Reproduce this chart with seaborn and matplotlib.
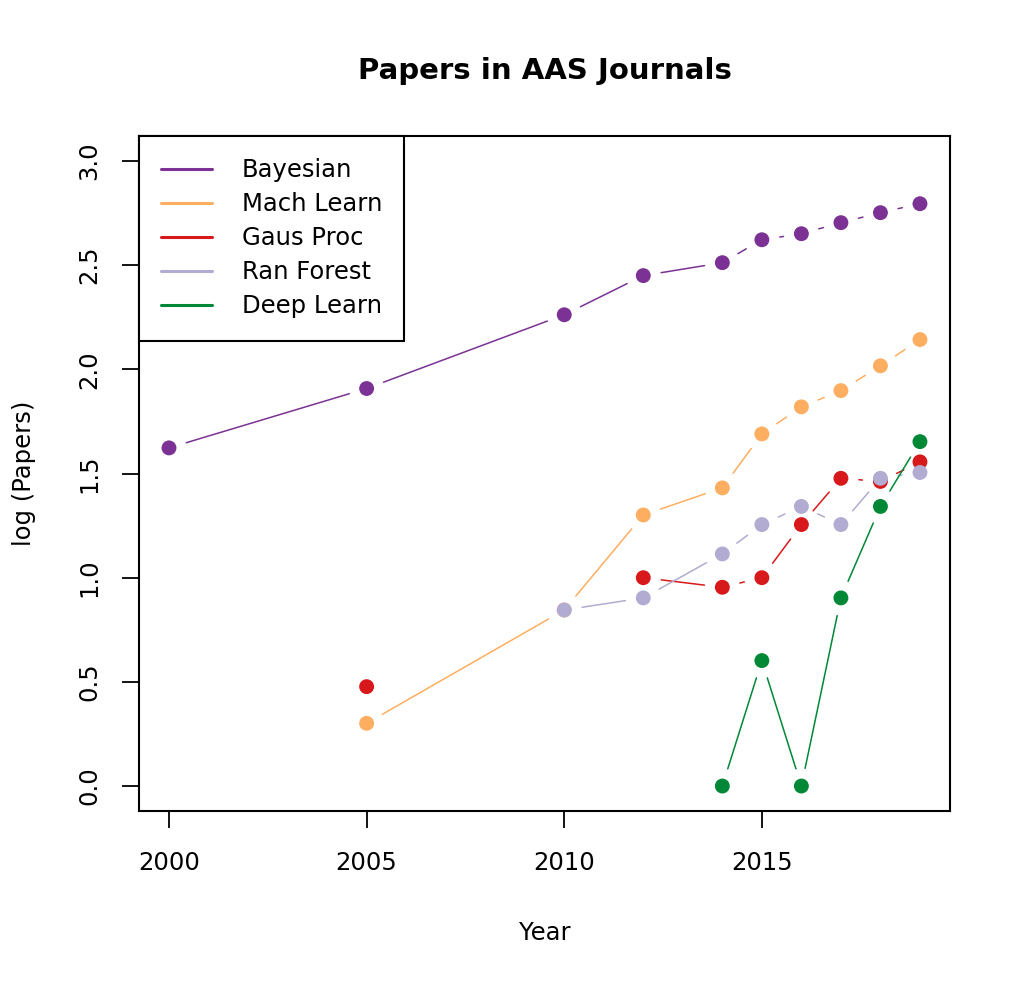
import numpy as np
import pandas as pd
import matplotlib
matplotlib.use('Agg')
import matplotlib.pyplot as plt
import seaborn as sns
from matplotlib.lines import Line2D

sns.set_style('ticks')
plt.rcParams['font.family'] = ['DejaVu Sans']
plt.rcParams['text.color'] = 'black'
plt.rcParams['axes.labelcolor'] = 'black'

# Data (log10 of paper counts)
years = [2000, 2005, 2010, 2012, 2014, 2015, 2016, 2017, 2018, 2019]
bayesian = [1.623, 1.908, 2.262, 2.450, 2.512, 2.622, 2.651, 2.704, 2.752, 2.795]
mach_learn = [np.nan, 0.301, 0.845, 1.301, 1.431, 1.690, 1.820, 1.898, 2.017, 2.143]
gaus_proc = [np.nan, 0.477, np.nan, 1.000, 0.954, 1.000, 1.255, 1.477, 1.462, 1.556]
ran_forest = [np.nan, np.nan, 0.845, 0.903, 1.114, 1.255, 1.342, 1.255, 1.477, 1.505]
deep_learn = [np.nan, np.nan, np.nan, np.nan, 0.000, 0.602, 0.000, 0.903, 1.342, 1.653]

series_names = ['Bayesian', 'Mach Learn', 'Gaus Proc', 'Ran Forest', 'Deep Learn']
series_vals = [bayesian, mach_learn, gaus_proc, ran_forest, deep_learn]
colors = ['#7B3294', '#FDAE61', '#D7191C', '#B2ABD2', '#008837']

fig = plt.figure(figsize=(10.18, 9.82), dpi=100)
ax = fig.add_axes([0.1365, 0.1741, 0.7967, 0.6874])

for name, vals, col in zip(series_names, series_vals, colors):
    df = pd.DataFrame({'Year': years, 'val': vals})
    # line segments with gaps around the points (like R type="b")
    for i in range(len(years) - 1):
        if not (np.isnan(vals[i]) or np.isnan(vals[i + 1])):
            ax.annotate('', xy=(years[i + 1], vals[i + 1]), xytext=(years[i], vals[i]),
                        arrowprops=dict(arrowstyle='-', color=col, lw=1.1,
                                        shrinkA=13, shrinkB=13))
    sns.scatterplot(data=df.dropna(), x='Year', y='val', color=col, s=115,
                    edgecolor='none', ax=ax, legend=False, zorder=3)

ax.set_xlim(1999.24, 2019.76)
ax.set_ylim(-0.12, 3.12)
ax.set_xticks([2000, 2005, 2010, 2015])
ax.set_yticks([0.0, 0.5, 1.0, 1.5, 2.0, 2.5, 3.0])
ax.set_yticklabels(['0.0', '0.5', '1.0', '1.5', '2.0', '2.5', '3.0'],
                   rotation=90, va='center')
ax.tick_params(axis='x', length=12, width=1.3, labelsize=17.5, pad=17,
               color='black', labelcolor='black')
ax.tick_params(axis='y', length=12, width=1.3, labelsize=17.5, pad=15,
               color='black', labelcolor='black')
for s in ax.spines.values():
    s.set_linewidth(1.5)
    s.set_color('black')

ax.set_xlabel('Year', fontsize=17.5, labelpad=33)
ax.set_ylabel('log (Papers)', fontsize=17.5, labelpad=30)
ax.set_title('Papers in AAS Journals', fontsize=21, fontweight='bold', pad=41)

handles = [Line2D([0], [0], color=c, lw=2.2) for c in colors]
leg = ax.legend(handles, series_names, loc='upper left', bbox_to_anchor=(0, 1),
                borderaxespad=0, fontsize=17.5, frameon=True, fancybox=False,
                handlelength=2.1, handletextpad=1.2, labelspacing=0.41,
                borderpad=0.92)
leg.get_frame().set_edgecolor('black')
leg.get_frame().set_linewidth(1.5)
leg.get_frame().set_alpha(1)

plt.savefig('out.png', dpi=100)
